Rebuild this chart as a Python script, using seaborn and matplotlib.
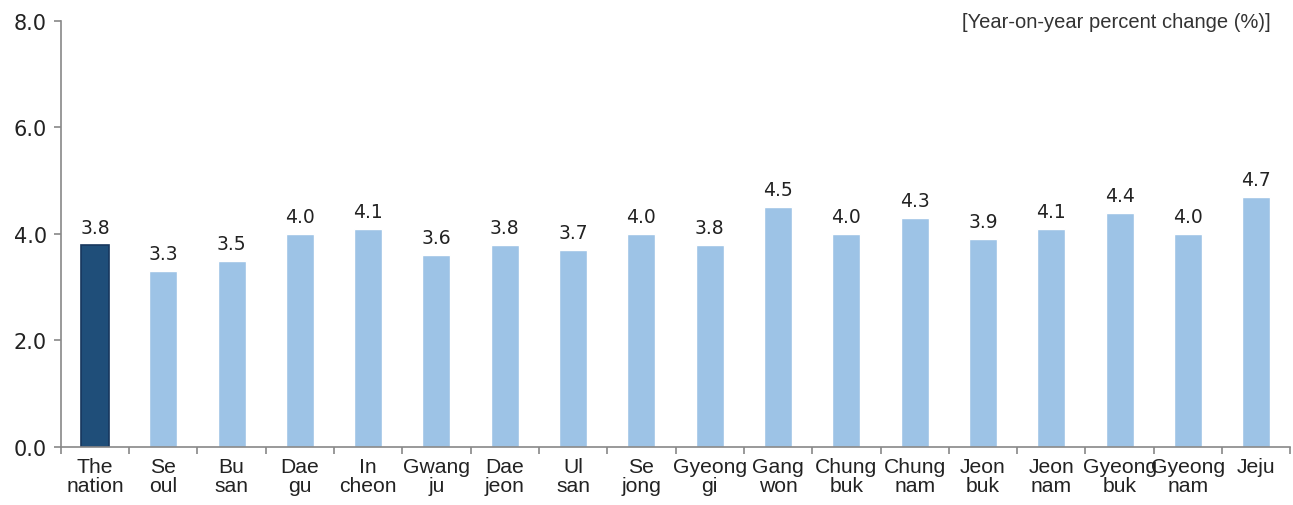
import matplotlib
matplotlib.use("Agg")
import matplotlib.pyplot as plt
import seaborn as sns
import pandas as pd

# Regions and year-on-year change (%)
regions = ["The\nnation", "Se\noul", "Bu\nsan", "Dae\ngu", "In\ncheon", "Gwang\nju",
           "Dae\njeon", "Ul\nsan", "Se\njong", "Gyeong\ngi", "Gang\nwon", "Chung\nbuk",
           "Chung\nnam", "Jeon\nbuk", "Jeon\nnam", "Gyeong\nbuk", "Gyeong\nnam", "Jeju"]
values = [3.8, 3.3, 3.5, 4.0, 4.1, 3.6, 3.8, 3.7, 4.0, 3.8, 4.5, 4.0, 4.3, 3.9, 4.1, 4.4, 4.0, 4.7]
colors = ["#1F4E79"] + ["#9DC3E6"] * (len(regions) - 1)

df = pd.DataFrame({"region": regions, "value": values})

sns.set_style("white")
fig = plt.figure(figsize=(12.93, 5.06), dpi=100)
ax = fig.add_axes([0.047, 0.1146, 0.951, 0.842])

sns.barplot(data=df, x="region", y="value", hue="region", palette=colors,
            width=0.41, legend=False, ax=ax, saturation=1)

for i, p in enumerate(ax.patches):
    if i == 0:
        p.set_edgecolor("#17375E")
        p.set_linewidth(1.2)

for i, v in enumerate(values):
    ax.text(i, v + 0.15, f"{v:.1f}", ha="center", va="bottom", fontsize=13.5,
            color="#222222", family="DejaVu Sans")

ax.set_ylim(0, 8)
ax.set_xlim(-0.5, len(regions) - 0.5)
ax.set_yticks([0, 2, 4, 6, 8])
ax.set_yticklabels([f"{t:.1f}" for t in [0, 2, 4, 6, 8]], family="DejaVu Sans",
                   fontsize=15, color="#222222")
ax.set_xticks(range(len(regions)))
ax.set_xticklabels(regions, family="Liberation Sans", fontsize=15.2, color="#222222",
                   linespacing=1.05)
ax.set_xlabel("")
ax.set_ylabel("")

# category boundary ticks on x axis
ax.set_xticks([i - 0.5 for i in range(len(regions) + 1)], minor=True)
ax.tick_params(axis="x", which="major", bottom=False, length=0, pad=7)
ax.tick_params(axis="x", which="minor", bottom=True, length=5, width=1.2,
               color="#888888", direction="out")
ax.tick_params(axis="y", left=True, length=5, width=1.2, color="#888888",
               direction="out", pad=5)

for s in ["top", "right"]:
    ax.spines[s].set_visible(False)
for s in ["left", "bottom"]:
    ax.spines[s].set_color("#888888")
    ax.spines[s].set_linewidth(1.2)

fig.text(0.983, 0.975, "[Year-on-year percent change (%)]", ha="right", va="top",
         family="Liberation Sans", fontsize=14.5, color="#333333")

fig.savefig("out.png", dpi=100)
